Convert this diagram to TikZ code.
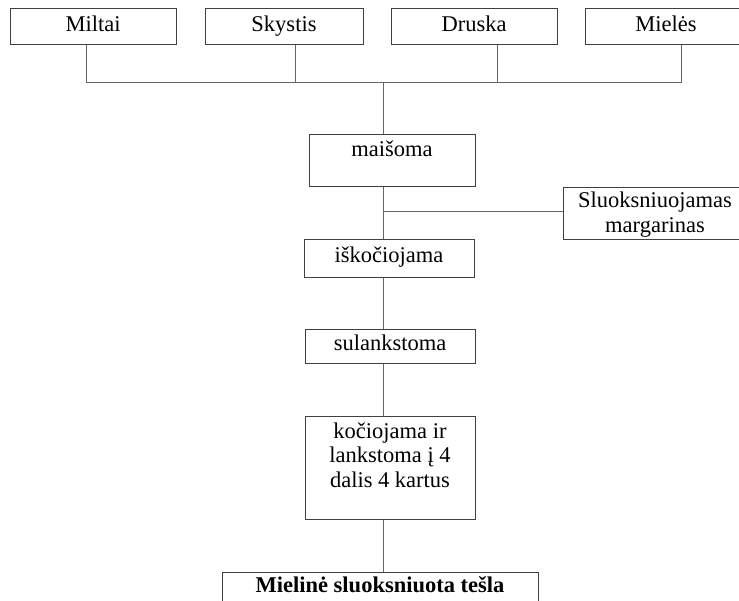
\documentclass[tikz,border=0pt]{standalone}
\usepackage{fontspec}
\setmainfont{Liberation Serif}
\begin{document}
\begin{tikzpicture}[x=1pt,y=-1pt,
  every node/.style={font=\fontsize{22.5}{24.5}\selectfont},
  box/.style={draw=black!75, line width=0.9pt, inner sep=0pt, anchor=north west},
  txt/.style={inner sep=0pt, align=center, anchor=base},
  link/.style={draw=black!60, line width=0.9pt}]
\clip (0,0) rectangle (739,600);

% ingredient boxes
\node[box, minimum width=166, minimum height=36] (mil) at (10,8) {};
\node[txt] (milT) at (93,31) {Miltai};
\node[box, minimum width=158, minimum height=36] (sky) at (205,8) {};
\node[txt] (skyT) at (284,31) {Skystis};
\node[box, minimum width=166, minimum height=36] (dru) at (391,8) {};
\node[txt] (druT) at (474,31) {Druska};
\node[box, minimum width=162, minimum height=36] (mie) at (585,8) {};
\node[txt] (mieT) at (666,31) {Mielės};

% process steps (multi-line texts are placed by their last baseline)
\node[box, minimum width=166, minimum height=52] (mai) at (309,134) {};
\node[txt] (maiT) at (392,156) {maišoma};
\node[box, minimum width=184, minimum height=52] (slu) at (563,187) {};
\node[txt] (sluT) at (655,232) {Sluoksniuojamas\\margarinas};
\node[box, minimum width=170, minimum height=38] (isk) at (304,239) {};
\node[txt] (iskT) at (389,262) {iškočiojama};
\node[box, minimum width=170, minimum height=34] (sul) at (305,329) {};
\node[txt] (sulT) at (390,350) {sulankstoma};
\node[box, minimum width=170, minimum height=103] (koc) at (305,416) {};
\node[txt] (kocT) at (390,487) {kočiojama ir\\lankstoma į 4\\dalis 4 kartus};
\node[box, minimum width=316, minimum height=32] (res) at (222,572) {};
\node[txt, font=\fontsize{22.5}{24.5}\selectfont\bfseries] (resT) at (380,592) {Mielinė sluoksniuota tešla};

% collecting bus
\coordinate (b1) at (86,82);
\coordinate (b2) at (295,82);
\coordinate (b3) at (497,82);
\coordinate (b4) at (681,82);
\coordinate (bc) at (383,82);
\coordinate (jm) at (383,211);
\draw[link] (mil.south -| b1) -- (b1) -- (b4) -- (mie.south -| b4);
\draw[link] (sky.south -| b2) -- (b2);
\draw[link] (dru.south -| b3) -- (b3);
\draw[link] (bc) -- (mai.north -| bc);

% main line
\draw[link] (mai.south -| bc) -- (isk.north -| bc);
\draw[link] (jm) -- (jm -| slu.west);
\draw[link] (isk.south -| bc) -- (sul.north -| bc);
\draw[link] (sul.south -| bc) -- (koc.north -| bc);
\draw[link] (koc.south -| bc) -- (res.north -| bc);
\end{tikzpicture}
\end{document}
